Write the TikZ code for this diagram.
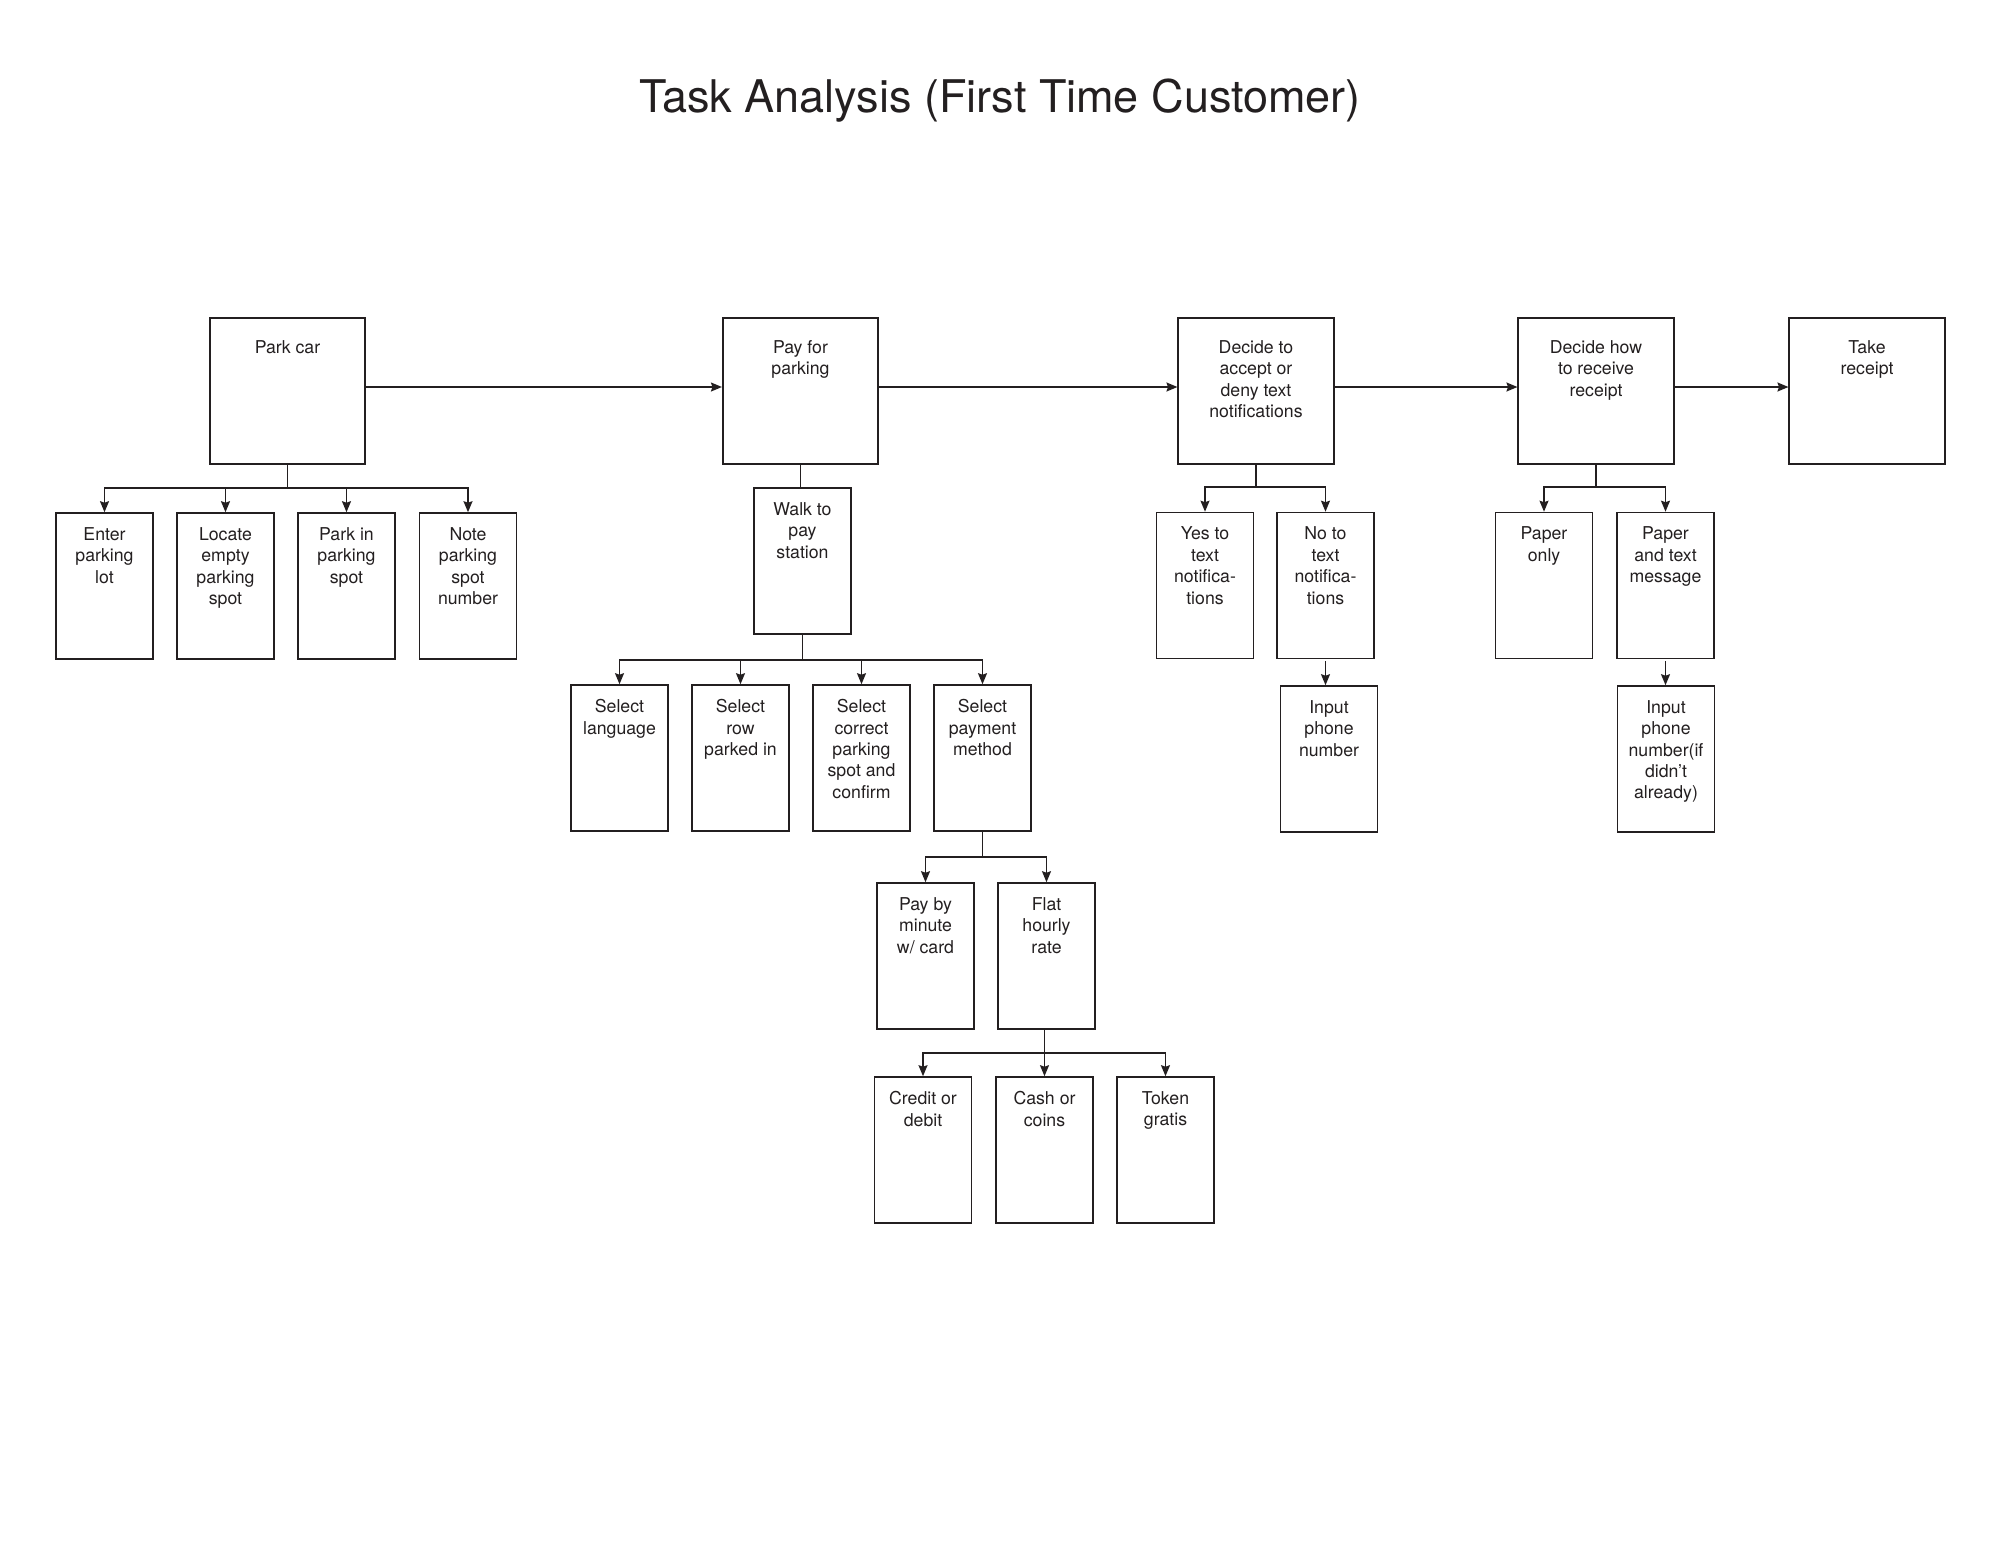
\documentclass[tikz,border=0pt]{standalone}
\usepackage{fontspec}
\setmainfont{TeX Gyre Heros}
\usetikzlibrary{arrows.meta,calc}
\definecolor{ink}{RGB}{35,31,32}
\tikzset{
  basebox/.style={draw=ink, line width=1.6pt, rectangle, inner sep=0pt},
  bigbox/.style={basebox, minimum width=155.5pt, minimum height=146pt},
  smallbox/.style={basebox, minimum width=97pt, minimum height=146pt},
  txt/.style={font=\fontsize{17.7}{21.4}\selectfont, text=ink, align=center, inner sep=0pt, anchor=north},
  conn/.style={draw=ink, line width=1.5pt},
  arr/.style={conn, -{Stealth[length=11pt,width=9pt,inset=1.5pt]}},
}
\newcommand\boxtext[3]{\node[txt] (#1T) at ([yshift=-#2pt]#1.north) {#3};}
\begin{document}
\begin{tikzpicture}[x=1pt,y=-1pt]
\useasboundingbox (0,0) rectangle (2000,1545);
% title
\node[font=\fontsize{45}{54}\selectfont, text=ink, anchor=base, inner sep=0pt] (title) at (1000,112) {Task Analysis (First Time Customer)};
% main row
\node[bigbox] (park) at (287.5,391) {};
\node[bigbox] (pay)  at (800.5,391) {};
\node[bigbox] (dacc) at (1256,391) {};
\node[bigbox] (dhow) at (1596,391) {};
\node[bigbox] (take) at (1867,391) {};
\boxtext{park}{23}{Park car}
\boxtext{pay}{23}{Pay for\\parking}
\boxtext{dacc}{23}{Decide to\\accept or\\deny text\\notifications}
\boxtext{dhow}{23}{Decide how\\to receive\\receipt}
\boxtext{take}{23}{Take\\receipt}
\draw[arr] ([yshift=4pt]park.east) -- ([yshift=4pt]pay.west);
\draw[arr] ([yshift=4pt]pay.east) -- ([yshift=4pt]dacc.west);
\draw[arr] ([yshift=4pt]dacc.east) -- ([yshift=4pt]dhow.west);
\draw[arr] ([yshift=4pt]dhow.east) -- ([yshift=4pt]take.west);
% park car children
\node[smallbox] (enter)  at (104.5,586) {};
\node[smallbox] (locate) at (225.5,586) {};
\node[smallbox] (parkin) at (346.5,586) {};
\node[smallbox] (note)   at (468,586) {};
\boxtext{enter}{15}{Enter\\parking\\lot}
\boxtext{locate}{15}{Locate\\empty\\parking\\spot}
\boxtext{parkin}{15}{Park in\\parking\\spot}
\boxtext{note}{15}{Note\\parking\\spot\\number}
\coordinate (parkJ) at (park.south |- 0,488);
\draw[conn] (park.south) -- (parkJ);
\foreach \c in {enter,locate,parkin,note} \draw[arr] (parkJ) -| (\c.north);
% pay children
\node[smallbox] (walk) at (802.5,561) {};
\boxtext{walk}{15}{Walk to\\pay\\station}
\draw[conn] (pay.south) -- (pay.south |- walk.north);
\node[smallbox] (sellang) at (619.5,758) {};
\node[smallbox] (selrow)  at (740.5,758) {};
\node[smallbox] (selspot) at (861.5,758) {};
\node[smallbox] (selpay)  at (982.5,758) {};
\boxtext{sellang}{15}{Select\\language}
\boxtext{selrow}{15}{Select\\row\\parked in}
\boxtext{selspot}{15}{Select\\correct\\parking\\spot and\\confirm}
\boxtext{selpay}{15}{Select\\payment\\method}
\coordinate (walkJ) at (walk.south |- 0,660);
\draw[conn] (walk.south) -- (walkJ);
\foreach \c in {sellang,selrow,selspot,selpay} \draw[arr] (walkJ) -| (\c.north);
% payment method children
\node[smallbox] (paymin) at (925.5,956) {};
\node[smallbox] (flat)   at (1046.5,956) {};
\boxtext{paymin}{15}{Pay by\\minute\\w/ card}
\boxtext{flat}{15}{Flat\\hourly\\rate}
\coordinate (selpayJ) at (selpay.south |- 0,857);
\draw[conn] (selpay.south) -- (selpayJ);
\foreach \c in {paymin,flat} \draw[arr] (selpayJ) -| (\c.north);
% flat rate children
\node[smallbox] (credit) at (923,1150) {};
\node[smallbox] (cash)   at (1044.5,1150) {};
\node[smallbox] (token)  at (1165.5,1150) {};
\boxtext{credit}{15}{Credit or\\debit}
\boxtext{cash}{15}{Cash or\\coins}
\boxtext{token}{15}{Token\\gratis}
\coordinate (flatJ) at (cash.north |- 0,1053);
\draw[conn] (cash.north |- flat.south) -- (flatJ);
\foreach \c in {credit,cash,token} \draw[arr] (flatJ) -| (\c.north);
% decide accept children
\node[smallbox] (yes) at (1205,585.5) {};
\node[smallbox] (no)  at (1325.5,585.5) {};
\node[smallbox] (inphoneA) at (1329,759) {};
\boxtext{yes}{15}{Yes to\\text\\notifica-\\tions}
\boxtext{no}{15}{No to\\text\\notifica-\\tions}
\boxtext{inphoneA}{15}{Input\\phone\\number}
\coordinate (daccJ) at (dacc.south |- 0,487);
\draw[conn] (dacc.south) -- (daccJ);
\foreach \c in {yes,no} \draw[arr] (daccJ) -| (\c.north);
\draw[arr, shorten <=2pt] (no.south) -- (no.south |- inphoneA.north);
% decide how children
\node[smallbox] (paperonly) at (1544,585.5) {};
\node[smallbox] (papertext) at (1665.5,585.5) {};
\node[smallbox] (inphoneB)  at (1666,759) {};
\boxtext{paperonly}{15}{Paper\\only}
\boxtext{papertext}{15}{Paper\\and text\\message}
\boxtext{inphoneB}{15}{Input\\phone\\number(if\\didn’t\\already)}
\coordinate (dhowJ) at (dhow.south |- 0,487);
\draw[conn] (dhow.south) -- (dhowJ);
\foreach \c in {paperonly,papertext} \draw[arr] (dhowJ) -| (\c.north);
\draw[arr, shorten <=2pt] (papertext.south) -- (papertext.south |- inphoneB.north);
\end{tikzpicture}
\end{document}
